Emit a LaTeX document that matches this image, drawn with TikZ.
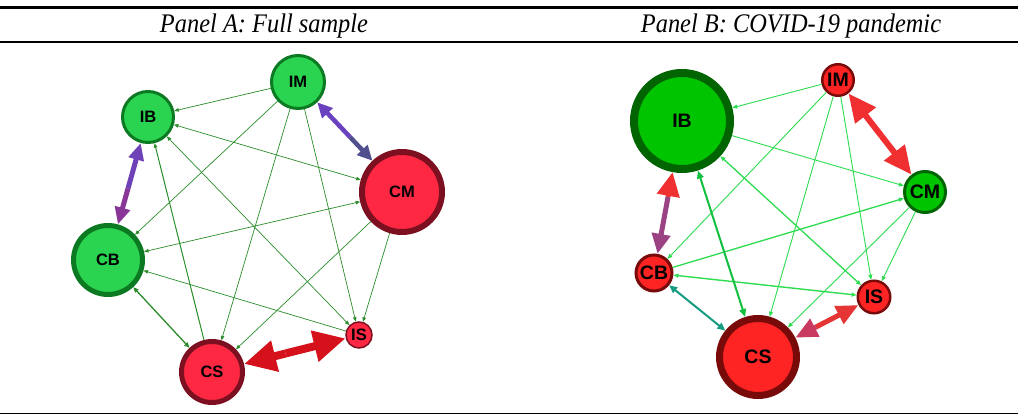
\documentclass[tikz,border=0pt]{standalone}
\usepackage{fontspec}
\setmainfont{Liberation Serif}
\newfontfamily\labfont{Liberation Sans}
\usetikzlibrary{arrows.meta,calc}
\definecolor{gAfill}{HTML}{2BD450}
\definecolor{gAline}{HTML}{0B7A22}
\definecolor{rAfill}{HTML}{FF2843}
\definecolor{rAline}{HTML}{7D1020}
\definecolor{gBfill}{HTML}{00C400}
\definecolor{gBline}{HTML}{006400}
\definecolor{rBfill}{HTML}{FF2424}
\definecolor{rBline}{HTML}{780A0A}
\definecolor{eA}{HTML}{2A8C2A}
\definecolor{eB}{HTML}{2EDC50}
\definecolor{purIB}{HTML}{6F42B8}
\definecolor{purCB}{HTML}{8A3598}
\definecolor{purIM}{HTML}{6A42C0}
\definecolor{purCM}{HTML}{50508F}
\definecolor{redA}{HTML}{D5111B}
\definecolor{redB}{HTML}{F03030}
\definecolor{redIS}{HTML}{E53535}
\definecolor{magB}{HTML}{9A4282}
\definecolor{roseB}{HTML}{C83A60}
\definecolor{tealB}{HTML}{169C80}
\definecolor{grnB}{HTML}{12C040}
\begin{document}
\begin{tikzpicture}[x=1pt,y=-1pt,
  nodeA/.style={circle,inner sep=0pt,font=\labfont\bfseries\fontsize{16.5}{17}\selectfont},
  nodeB/.style={circle,inner sep=0pt,font=\labfont\bfseries\fontsize{19.5}{20}\selectfont},
  gA/.style={nodeA,fill=gAfill,draw=gAline},
  rA/.style={nodeA,fill=rAfill,draw=rAline},
  gB/.style={nodeB,fill=gBfill,draw=gBline},
  rB/.style={nodeB,fill=rBfill,draw=rBline},
  thinA/.style={draw=eA,line width=0.7pt,-{Triangle[length=4.5pt,width=3.5pt]}},
  thinAA/.style={draw=eA,line width=0.7pt,{Triangle[length=4.5pt,width=3.5pt]}-{Triangle[length=4.5pt,width=3.5pt]}},
  thinB/.style={draw=eB,line width=0.9pt,-{Triangle[length=5pt,width=4pt]}},
  thinBB/.style={draw=eB,line width=0.9pt,{Triangle[length=5pt,width=4pt]}-{Triangle[length=5pt,width=4pt]}},
  head/.style={text=black}
]
\useasboundingbox (0,0) rectangle (1018,417);
\fill[white] (0,0) rectangle (1018,417);
% rules
\draw[line width=3pt] (0,8) -- (1018,8);
\draw[line width=1.5pt] (0,42) -- (1018,42);
\draw[line width=0.8pt] (0,413) -- (1018,413);
\node[head] (hA) at (264,26) {\scalebox{1}[1.1]{\fontsize{24.4}{28}\selectfont\itshape Panel A: Full sample}};
\node[head] (hB) at (791,26) {\scalebox{1}[1.1]{\fontsize{24.4}{28}\selectfont\itshape Panel B: COVID-19 pandemic}};

% ---------- Panel A nodes ----------
\node[gA,minimum size=53pt,line width=3pt] (aIM) at (298,82) {IM};
\node[gA,minimum size=51pt,line width=3pt] (aIB) at (148,117) {IB};
\node[rA,minimum size=80pt,line width=6pt] (aCM) at (402,192) {CM};
\node[gA,minimum size=69pt,line width=5pt] (aCB) at (108,260) {CB};
\node[rA,minimum size=61pt,line width=5pt] (aCS) at (212,372) {CS};
\node[rA,minimum size=26pt,line width=1.5pt] (aIS) at (359,335) {IS};

% ---------- Panel A edges ----------
\draw[thinA] (aIM) -- (aIB);
\draw[thinA] (aIM) -- (aCB);
\draw[thinA] (aIM) -- (aCS);
\draw[thinA] (aIM) -- (aIS);
\draw[thinAA] (aCM) -- (aIB);
\draw[thinAA] (aCM) -- (aCB);
\draw[thinA] (aCM) -- (aCS);
\draw[thinA] (aCM) -- (aIS);
\draw[thinAA] (aIS) -- (aIB);
\draw[thinA] (aIS) -- (aCB);
\draw[thinA,line width=1pt] (aCS) -- (aIB);
\draw[draw=eA,line width=1.3pt,{Triangle[length=5.5pt,width=4.5pt]}-{Triangle[length=5.5pt,width=4.5pt]}] (aCS) -- (aCB);

\coordinate (am1) at ($(aIB)!0.5!(aCB)$);
\draw[purIB,line width=5pt,-{Triangle[length=17pt,width=15pt]}] (am1) -- (aIB);
\draw[purCB,line width=5pt,-{Triangle[length=17pt,width=15pt]}] (am1) -- (aCB);
\coordinate (am2) at ($(aIM)!0.5!(aCM)$);
\draw[purIM,line width=4.5pt,-{Triangle[length=15pt,width=14pt]}] (am2) -- (aIM);
\draw[purCM,line width=4.5pt,-{Triangle[length=15pt,width=14pt]}] (am2) -- (aCM);
\coordinate (am3) at ($(aCS)!0.5!(aIS)$);
\draw[redA,line width=8pt,-{Triangle[length=32pt,width=30pt]}] (am3) -- (aIS);
\draw[redA,line width=8pt,-{Triangle[length=32pt,width=30pt]}] (am3) -- (aCS);

% ---------- Panel B nodes ----------
\node[gB,minimum size=96pt,line width=8pt] (bIB) at (682,121) {IB};
\node[rB,minimum size=31.5pt,line width=2.5pt] (bIM) at (838,80) {IM};
\node[gB,minimum size=41pt,line width=3pt] (bCM) at (925,192) {CM};
\node[rB,minimum size=36pt,line width=3pt] (bCB) at (654,273) {CB};
\node[rB,minimum size=77pt,line width=7pt] (bCS) at (758,357) {CS};
\node[rB,minimum size=32.5pt,line width=2.5pt] (bIS) at (874,297) {IS};

% ---------- Panel B edges ----------
\draw[thinB] (bIM) -- (bIB);
\draw[thinB] (bIM) -- (bCB);
\draw[thinB] (bIM) -- (bCS);
\draw[thinB] (bIM) -- (bIS);
\draw[thinB] (bIB) -- (bCM);
\draw[thinBB,line width=1.3pt] (bIS) -- (bIB);
\draw[thinB,line width=1.3pt] (bCB) -- (bCM);
\draw[thinB] (bCM) -- (bCS);
\draw[thinB] (bCM) -- (bIS);
\draw[thinBB,line width=1.4pt] (bIS) -- (bCB);
\draw[grnB,line width=2pt,{Triangle[length=8pt,width=6.5pt]}-{Triangle[length=8pt,width=6.5pt]}] (bCS) -- (bIB);
\draw[tealB,line width=2pt,{Triangle[length=8pt,width=7pt]}-{Triangle[length=8pt,width=7pt]}] (bCS) -- (bCB);

\coordinate (bm1) at ($(bIB)!0.5!(bCB)$);
\draw[redB,line width=5pt,-{Triangle[length=24pt,width=22pt]}] (bm1) -- (bIB);
\draw[magB,line width=5pt,-{Triangle[length=20pt,width=18pt]}] (bm1) -- (bCB);
\coordinate (bm2) at ($(bIM)!0.5!(bCM)$);
\draw[redB,line width=6pt,-{Triangle[length=28pt,width=25pt]}] (bm2) -- (bIM);
\draw[redB,line width=6pt,-{Triangle[length=28pt,width=25pt]}] (bm2) -- (bCM);
\coordinate (bm3) at ($(bCS)!0.5!(bIS)$);
\draw[redIS,line width=5pt,-{Triangle[length=22pt,width=19pt]}] (bm3) -- (bIS);
\draw[roseB,line width=5pt,-{Triangle[length=22pt,width=19pt]}] (bm3) -- (bCS);
\end{tikzpicture}
\end{document}
